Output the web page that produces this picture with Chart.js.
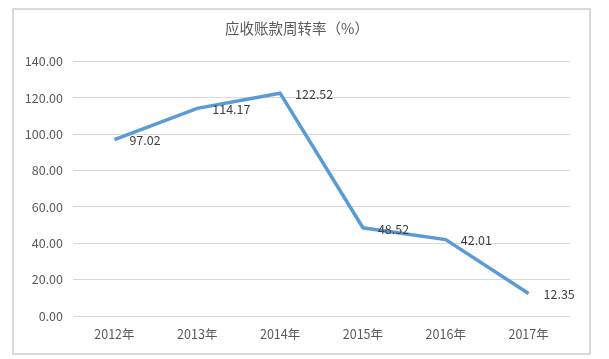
<!DOCTYPE html>
<html>
<head>
<meta charset="utf-8">
<script src="https://cdn.jsdelivr.net/npm/chart.js@4"></script>
<style>
    body { margin: 0; background: #fff; }
    #box {
        position: absolute; left: 12px; top: 8px;
        width: 575px; height: 343px;
        border: 2px solid #d9d9d9;
    }
</style>
</head>
<body>
<div id="box"><canvas id="myChart" width="575" height="343"></canvas></div>
<script>
const years = ['2012年', '2013年', '2014年', '2015年', '2016年', '2017年'];
const turnover = [97.02, 114.17, 122.52, 48.52, 42.01, 12.35];
const yTicks = [0, 20, 40, 60, 80, 100, 120, 140];
const chartTitle = '应收账款周转率（%）';

const fontFamily = '"Noto Sans CJK SC", "Liberation Sans", sans-serif';

// value labels to the right of each point
const pointLabels = {
    id: 'pointLabels',
    afterDatasetsDraw(chart) {
        const ctx = chart.ctx;
        const meta = chart.getDatasetMeta(0);
        ctx.save();
        ctx.font = '12.5px ' + fontFamily;
        ctx.fillStyle = '#404040';
        ctx.textAlign = 'left';
        ctx.textBaseline = 'middle';
        meta.data.forEach((pt, i) => {
            ctx.fillText(turnover[i].toFixed(2), pt.x + 15, pt.y + 1);
        });
        ctx.restore();
    }
};

function getChart(){
    const ctx = document.getElementById('myChart');

    new Chart(ctx, {
        type: 'line',
        data: {
            labels: years,
            datasets: [{
                data: turnover,
                borderColor: '#5b9bd5',
                borderWidth: 3.5,
                pointRadius: 0,
                tension: 0,
                fill: false
            }]
        },
        options: {
            responsive: false,
            animation: false,
            layout: { padding: { left: 10, right: 19, top: 0, bottom: 0 } },
            plugins: {
                legend: { display: false },
                tooltip: { enabled: false },
                title: {
                    display: true,
                    text: chartTitle,
                    color: '#595959',
                    font: { family: fontFamily, size: 14.5, weight: 'normal' },
                    padding: { top: 10, bottom: 24 }
                }
            },
            scales: {
                x: {
                    offset: true,
                    grid: { display: false, drawTicks: false, offset: true },
                    border: { display: false },
                    ticks: {
                        color: '#595959',
                        font: { family: fontFamily, size: 12.5 },
                        padding: 11,
                        maxRotation: 0
                    },
                    afterFit(scale) { scale.height = 37; }
                },
                y: {
                    min: 0,
                    max: 140,
                    afterBuildTicks(scale) { scale.ticks = yTicks.map(v => ({ value: v })); },
                    grid: { color: '#d9d9d9', lineWidth: 1, drawTicks: false },
                    border: { display: false },
                    ticks: {
                        color: '#595959',
                        font: { family: fontFamily, size: 12.5 },
                        padding: 10,
                        callback: (v) => Number(v).toFixed(2)
                    },
                    afterFit(scale) { scale.width = 49; }
                }
            }
        },
        plugins: [pointLabels]
    });
}

document.addEventListener('DOMContentLoaded', (event) => {
    getChart();
});
</script>
</body>
</html>
